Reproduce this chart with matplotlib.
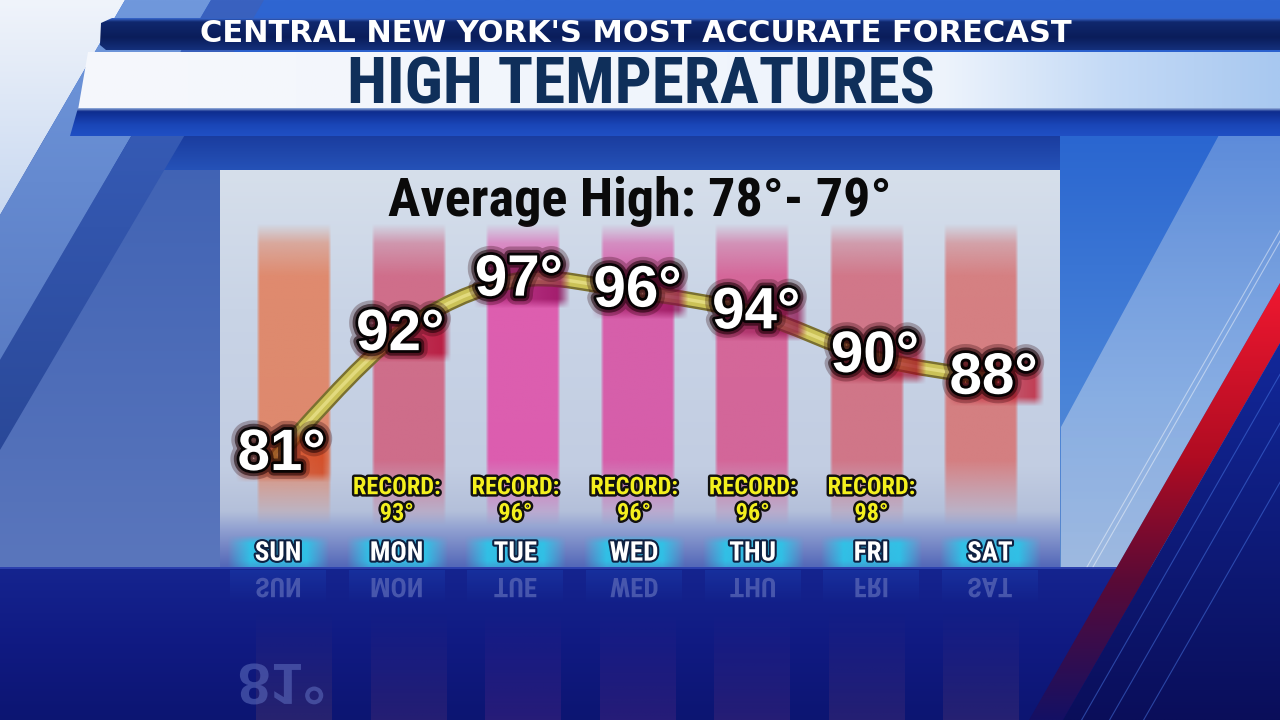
import numpy as np
import matplotlib
matplotlib.use('Agg')
import matplotlib.pyplot as plt
import matplotlib.patheffects as pe
from matplotlib.patches import Polygon, PathPatch
from matplotlib.path import Path
from matplotlib.textpath import TextPath
from matplotlib.font_manager import FontProperties, findfont
from matplotlib.transforms import Affine2D
from matplotlib.colors import to_rgba, to_rgb

# forecast data
days = ['SUN', 'MON', 'TUE', 'WED', 'THU', 'FRI', 'SAT']
highs = [81, 92, 97, 96, 94, 90, 88]
records = [None, 93, 96, 96, 96, 98, None]
avg_lo, avg_hi = 78, 79
header = "CENTRAL NEW YORK'S MOST ACCURATE FORECAST"
title = "HIGH TEMPERATURES"

col_colors = ['#e2805e', '#d0607e', '#e04ea8', '#d94fa2', '#d6588f', '#d26a7c', '#d77474']
glow_colors = ['#d03a10', '#b00028', '#8a0050', '#8a0048', '#8a0040', '#a00020', '#c00018']


def pick_font(names):
    for n in names:
        try:
            findfont(FontProperties(family=n), fallback_to_default=False)
            return n
        except ValueError:
            pass
    return 'DejaVu Sans'


NARROW = pick_font(['Liberation Sans Narrow', 'Roboto Condensed', 'Liberation Sans'])
ARIAL = pick_font(['Liberation Sans', 'Arimo', 'DejaVu Sans'])
WIDE = 'DejaVu Sans'


def ramp(stops, n=256):
    pos = [s[0] for s in stops]
    cols = np.array([to_rgba(s[1]) if not isinstance(s[1], tuple) else s[1] for s in stops])
    t = np.linspace(0, 1, n)
    return np.stack([np.interp(t, pos, cols[:, k]) for k in range(4)], axis=-1)


def grad(ax, x0, x1, y0, y1, stops, horiz=False, clip=None, z=0):
    arr = ramp(stops)[None, :, :] if horiz else ramp(stops)[:, None, :]
    im = ax.imshow(arr, extent=(x0, x1, y1, y0), origin='upper', aspect='auto',
                   interpolation='bilinear', zorder=z)
    if clip is not None:
        im.set_clip_path(Polygon(clip, closed=True, transform=ax.transData))
    return im


fig = plt.figure(figsize=(12.8, 7.2), dpi=100)
bg = fig.add_axes([0, 0, 1, 1])
bg.axis('off')
bg.set_xlim(0, 1280)
bg.set_ylim(720, 0)

# ---- background studio graphics (pixel coords, y down)
grad(bg, 0, 1280, 0, 567, [(0, '#2f66d2'), (0.3, '#2458c6'), (1, '#2a5cc0')])
grad(bg, 0, 220, 135, 567, [(0, '#3f62b4'), (1, '#5a76bc')], z=1)
grad(bg, 0, 1280, 135, 170, [(0, '#1a3c9e'), (1, '#2552b8')], z=1)
grad(bg, 0, 130, 0, 220, [(0, '#f0f4fb'), (1, '#c8d8f0')], clip=[(0, 0), (125, 0), (0, 215)], z=2)
grad(bg, 0, 215, 0, 365, [(0, '#7098dc'), (1, '#5a7cc4')],
     clip=[(125, 0), (211, 0), (0, 360), (0, 215)], z=2)
grad(bg, 0, 270, 0, 455, [(0, '#3a62c0'), (1, '#2a4898')],
     clip=[(211, 0), (264, 0), (0, 450), (0, 360)], z=2)

# right side sky, light slab, red stripe
grad(bg, 1060, 1280, 135, 567, [(0, '#2a66d0'), (0.6, '#4a84d8'), (1, '#5a88cc')], z=2)
grad(bg, 1060, 1280, 135, 567, [(0, (0.75, 0.83, 0.93, 0.35)), (1, (0.80, 0.86, 0.94, 0.6))],
     clip=[(1219, 135), (1280, 135), (1280, 283), (1117, 567), (1061, 567), (1061, 427)], z=3)
for off in (24, 30):
    ys = np.array([150, 567])
    bg.plot(1280 - 0.574 * (ys - 283) - off, ys, color='white', lw=0.8, alpha=0.45, zorder=3)

# floor
grad(bg, 0, 1280, 567, 720, [(0, '#15248f'), (0.5, '#101a82'), (1, '#0c1572')], z=2)
bg.plot([0, 1280], [567.5, 567.5], color='#3246b4', lw=1.2, zorder=3)

grad(bg, 1029, 1280, 283, 720, [(0, '#f01830'), (0.4, '#b00c22'), (0.68, '#5a0a36'), (1, '#141064')],
     clip=[(1280, 283), (1280, 343), (1063, 720), (1029, 720)], z=4)
grad(bg, 1063, 1280, 343, 720, [(0, '#12289a'), (1, '#0a0e5a')],
     clip=[(1280, 343), (1280, 720), (1063, 720)], z=4)
for off in (18, 46, 80):
    ys = np.array([343, 720])
    bg.plot(1280 - 0.574 * (ys - 343) + off, ys, color='#4a7ae8', lw=0.8, alpha=0.5, zorder=5)

# header bands
grad(bg, 100, 1280, 18, 50, [(0, '#3a6ad0'), (0.12, '#10286e'), (0.6, '#0a1d5a'), (1, '#14307c')],
     clip=[(112, 18), (1280, 18), (1280, 50), (106, 50), (100, 45), (101, 23)], z=6)
grad(bg, 78, 1280, 52, 110, [(0, '#f6f8fc'), (0.72, '#eef4fc'), (0.86, '#c4daf6'), (1, '#a8c8f0')],
     horiz=True, clip=[(88, 52), (1280, 52), (1280, 110), (78, 110)], z=6)
grad(bg, 70, 1280, 108, 136, [(0, '#9ab4e0'), (0.12, '#0e2c8e'), (0.6, '#1a46b8'), (1, '#2050c4')],
     clip=[(78, 108), (1280, 108), (1280, 136), (70, 136)], z=6)

bg.text(636, 34, header, color='white', fontsize=22, fontweight='bold', family=WIDE,
        ha='center', va='center', zorder=8)
bg.text(641, 86, title, color='#0f2f5a', fontsize=47, fontweight='bold', family=NARROW,
        ha='center', va='center', zorder=8)

# chart panel
grad(bg, 220, 1060, 170, 567, [(0, '#d6dfeb'), (0.35, '#c9d4e6'), (0.75, '#c2cde2'),
                                (0.86, '#b4c0da'), (0.91, '#8e9ed0'), (1, '#5468b8')], z=6)
bg.text(640, 216, f"Average High: {avg_lo}°- {avg_hi}°", color='#0a0a0a', fontsize=39,
        fontweight='bold', family=NARROW, ha='center', va='baseline', zorder=8)

# ---- chart axes
ax = fig.add_axes([220 / 1280, 153 / 720, 840 / 1280, 397 / 720])
ax.axis('off')
ax.patch.set_alpha(0)
ax.set_xlim(-0.489, 6.59)
ax.set_ylim(70.725, 107.15)

x = np.arange(len(days))
# the colour columns sit on a slightly tighter grid than the labels
col_x = 0.135 + 0.965 * x
bar_bot, bar_top = 74.5, 102.3
bars = ax.bar(col_x, bar_top - bar_bot, bottom=bar_bot, width=0.64, color='none',
              edgecolor='none', zorder=2)
for b, c in zip(bars, col_colors):
    t = np.linspace(bar_bot, bar_top, 200)
    a_v = np.interp(t, [bar_bot, 80.5, 97.5, 100.5, bar_top], [0, 0.88, 0.88, 0.55, 0])
    u = np.linspace(-1, 1, 60)
    a_h = np.clip((1 - np.abs(u)) / 0.08, 0, 1)
    arr = np.zeros((200, 60, 4))
    arr[..., :3] = to_rgb(c)
    arr[..., 3] = a_v[:, None] * a_h[None, :]
    im = ax.imshow(arr, extent=(b.get_x(), b.get_x() + b.get_width(), b.get_y(),
                                b.get_y() + b.get_height()),
                   origin='lower', aspect='auto', interpolation='bilinear', zorder=2)
    im.set_clip_path(b)

# cyan glow behind day names
for i in x:
    t = np.linspace(70.725, 73.6, 40)
    a_v = np.interp(t, [70.725, 71.3, 72.9, 73.6], [0.7, 1, 1, 0])
    u = np.linspace(-1, 1, 80)
    a_h = np.interp(np.abs(u), [0, 0.55, 1], [0.85, 0.95, 0])
    arr = np.zeros((40, 80, 4))
    arr[..., :3] = to_rgb('#2ec4e8')
    arr[..., 3] = a_v[:, None] * a_h[None, :]
    ax.imshow(arr, extent=(i - 0.43, i + 0.43, 70.725, 73.6), origin='lower',
              aspect='auto', interpolation='bilinear', zorder=3)

# smooth curve through the highs
P = np.column_stack([x, highs]).astype(float)
E = np.vstack([P[0], P, P[-1]])
verts, codes = [P[0]], [Path.MOVETO]
for k in range(len(P) - 1):
    p0, p1, p2, p3 = E[k], E[k + 1], E[k + 2], E[k + 3]
    verts += [p1 + (p2 - p0) / 6, p2 - (p3 - p1) / 6, p2]
    codes += [Path.CURVE4] * 3
curve = Path(verts, codes)
for lw, col in [(11.5, '#7a7030'), (8, '#cbc257'), (2.5, '#e2da7e')]:
    ax.add_patch(PathPatch(curve, facecolor='none', edgecolor=col, lw=lw,
                           capstyle='round', joinstyle='round', zorder=4))

# soft red shadow box behind each high
for i, h, gc in zip(x, highs, glow_colors):
    ys = np.linspace(-1, 1, 40)
    xs = np.linspace(-1, 1, 60)
    a = np.clip((1 - np.abs(ys)) / 0.35, 0, 1)[:, None] * np.clip((1 - np.abs(xs)) / 0.2, 0, 1)[None, :]
    a = a * np.interp(xs, [-1, 0, 1], [0.35, 0.5, 0.75])[None, :]
    arr = np.zeros((40, 60, 4))
    arr[..., :3] = to_rgb(gc)
    arr[..., 3] = a
    ax.imshow(arr, extent=(i - 0.36, i + 0.46, h - 2.6, h + 2.3), origin='lower',
              aspect='auto', interpolation='bilinear', zorder=5)

temp_fx = [pe.Stroke(linewidth=13, foreground='#2a0006', alpha=0.28),
           pe.Stroke(linewidth=8, foreground='#160003', alpha=0.55),
           pe.Stroke(linewidth=4, foreground='#000000', alpha=0.9), pe.Normal()]
for i, h in zip(x, highs):
    ax.text(i + 0.03, h, f"{h}°", color='white', fontsize=42, fontweight='bold', family=ARIAL,
            ha='center', va='center', zorder=6, path_effects=temp_fx)

rec_fx = [pe.Stroke(linewidth=3.5, foreground='#111111'), pe.Normal()]
for i, r in zip(x, records):
    if r is None:
        continue
    ax.text(i, 78.0, "RECORD:", color='#f4f01e', fontsize=17.5, fontweight='bold',
            family=NARROW, ha='center', va='center', zorder=6, path_effects=rec_fx)
    ax.text(i, 75.6, f"{r}°", color='#f4f01e', fontsize=17.5, fontweight='bold',
            family=NARROW, ha='center', va='center', zorder=6, path_effects=rec_fx)

day_fx = [pe.Stroke(linewidth=3, foreground='#0a1030', alpha=0.9), pe.Normal()]
for i, d in zip(x, days):
    ax.text(i, 72.0, d, color='white', fontsize=19.5, fontweight='bold', family=NARROW,
            ha='center', va='center', zorder=6, path_effects=day_fx)

# ---- reflections on the floor
fp = FontProperties(family=NARROW, weight='bold')
fp_t = FontProperties(family=ARIAL, weight='bold')
for i, cxd, d, c in zip(x, col_x, days, col_colors):
    bx = ax.transData.transform((cxd, 80))[0]
    r, g, b_ = to_rgb(c)
    grad(bg, bx - 38, bx + 38, 610, 720, [(0, (r, g, b_, 0)), (1, (r, g, b_, 0.13))], z=5)
    cx = ax.transData.transform((i, 80))[0]
    grad(bg, cx - 48, cx + 48, 570, 604, [(0, (0.12, 0.3, 0.75, 0.3)), (1, (0.12, 0.3, 0.75, 0))], z=5)
    tp = TextPath((0, 0), d, size=27, prop=fp)
    e = tp.get_extents()
    tr = Affine2D().translate(-(e.x0 + e.width / 2), 0).translate(cx, 578) + bg.transData
    bg.add_patch(PathPatch(tp, transform=tr, facecolor='#5563b4', edgecolor='none',
                           alpha=0.8, zorder=6))

cx = ax.transData.transform((0.03, 81))[0]
tp = TextPath((0, 0), f"{highs[0]}°", size=58, prop=fp_t)
e = tp.get_extents()
tr = Affine2D().translate(-(e.x0 + e.width / 2), 0).translate(cx, 664) + bg.transData
bg.add_patch(PathPatch(tp, transform=tr, facecolor='#6070c0', edgecolor='none',
                       alpha=0.55, zorder=6))

fig.savefig('out.png', dpi=100)
